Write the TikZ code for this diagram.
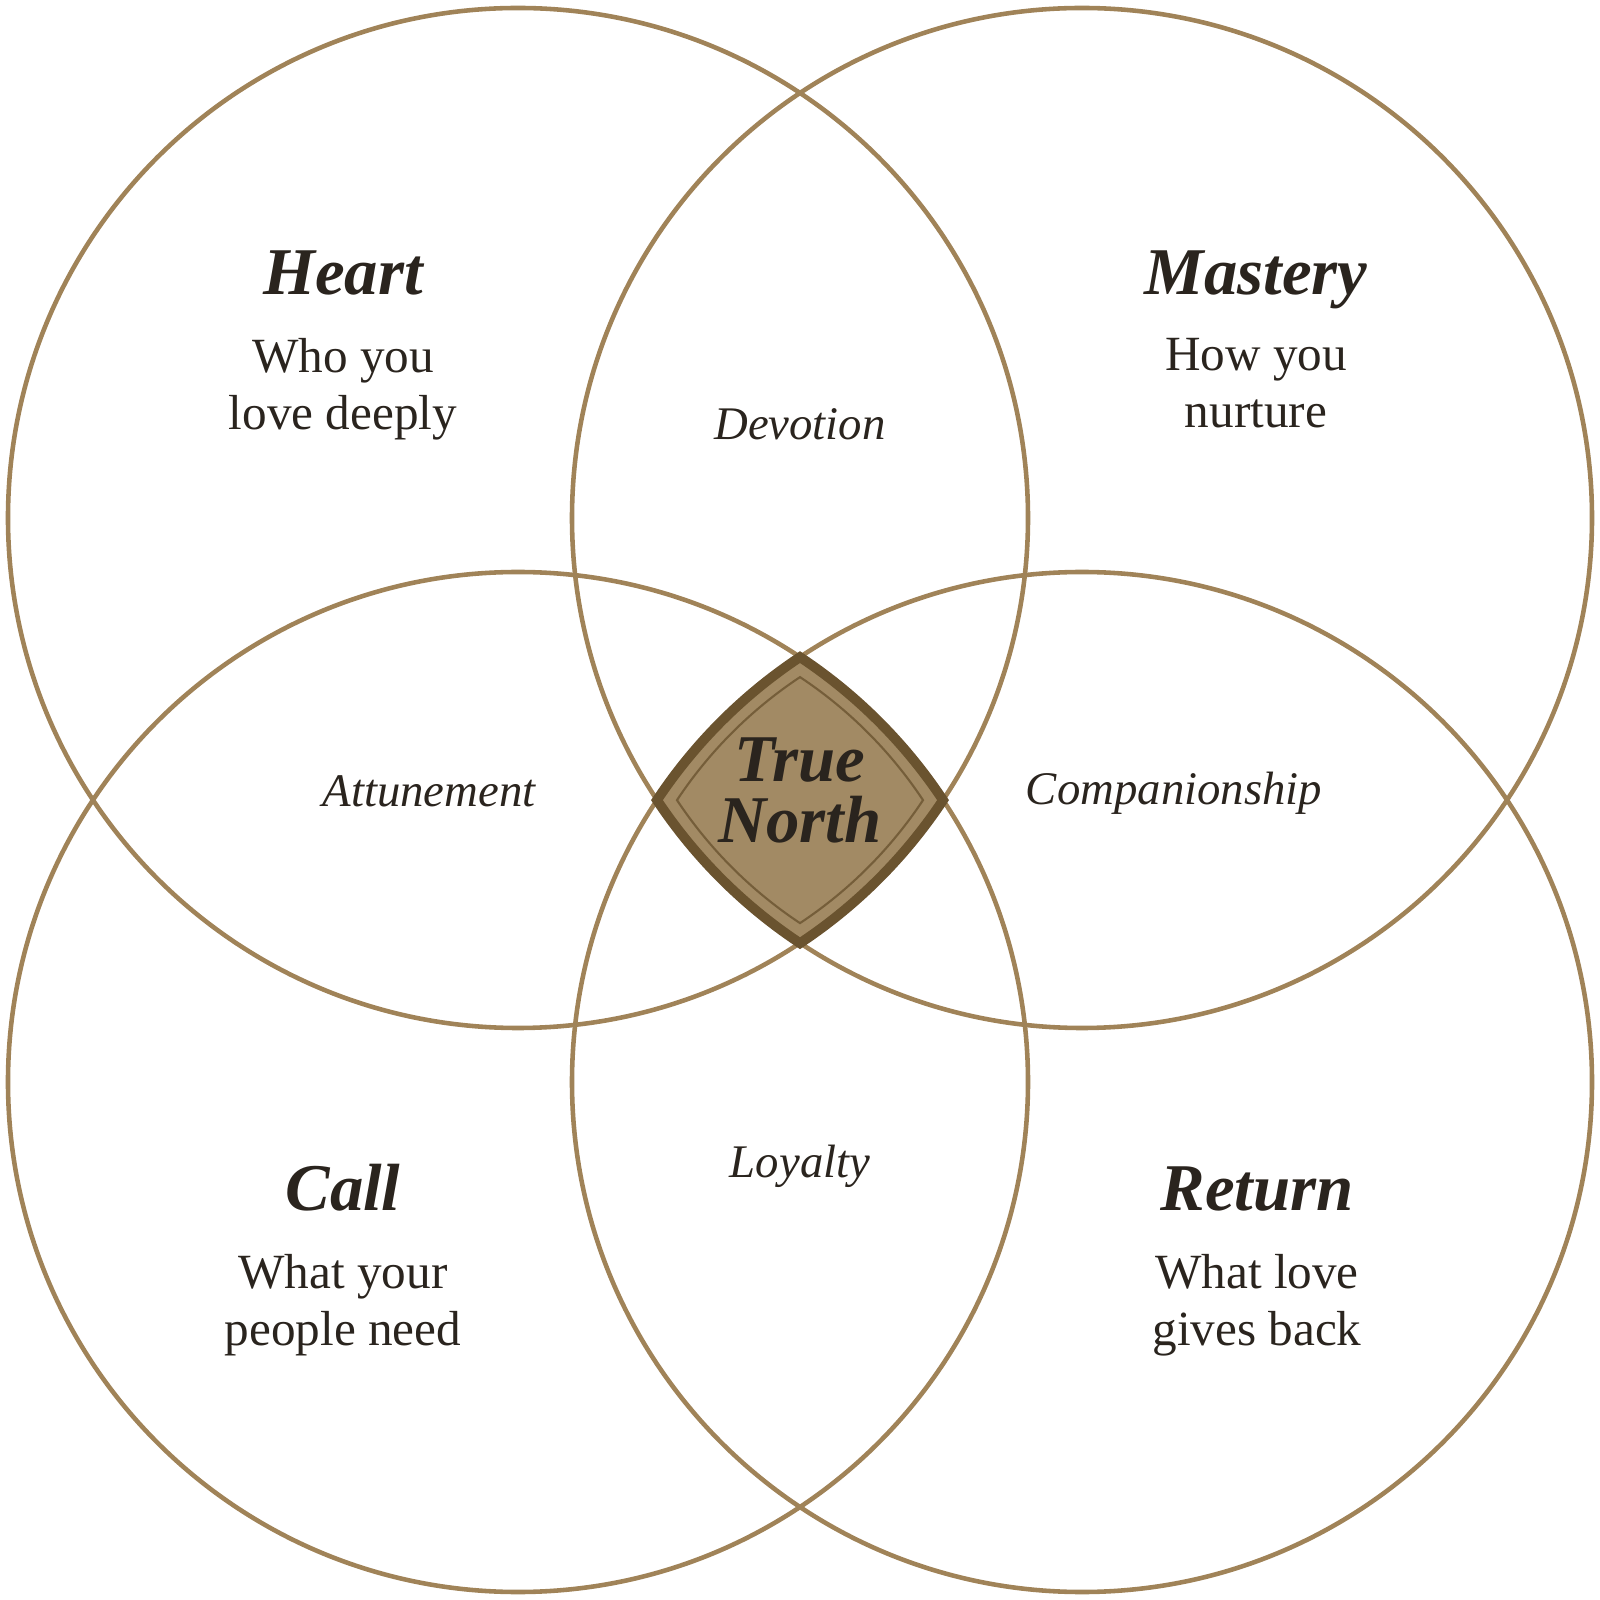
\documentclass[tikz,border=0pt]{standalone}
\usepackage{fontspec}
\setmainfont{Liberation Serif}
\usetikzlibrary{positioning}

\definecolor{ring}{HTML}{A08358}
\definecolor{kern}{HTML}{A28A64}
\definecolor{kernrand}{HTML}{6A532F}
\definecolor{schrift}{HTML}{2A241E}

% Rand der Schnittmenge aller vier Kreise
\newcommand{\kernpfad}{(0,1.429)
	arc[start angle=123.56, end angle=146.44, radius=5.1]
	arc[start angle=213.56, end angle=236.44, radius=5.1]
	arc[start angle=303.56, end angle=326.44, radius=5.1]
	arc[start angle=33.56, end angle=56.44, radius=5.1] -- cycle}

\begin{document}
\begin{tikzpicture}[
		text=schrift,
		kreis/.style={draw=ring, line width=1.3pt},
		titel/.style={font=\fontsize{19}{17}\selectfont\bfseries\itshape,
			anchor=base, inner sep=0pt},
		beschr/.style={font=\fontsize{14}{16}\selectfont, align=center,
			anchor=north, inner sep=0pt},
		schnitt/.style={font=\fontsize{13.3}{15}\selectfont\itshape,
			anchor=base, inner sep=0pt},
	]
		\useasboundingbox (-8,-8) rectangle (8,8);

		% Vier Kreise
		\draw[kreis] (-2.82,2.82) circle (5.1);
		\draw[kreis] (2.82,2.82) circle (5.1);
		\draw[kreis] (-2.82,-2.82) circle (5.1);
		\draw[kreis] (2.82,-2.82) circle (5.1);

		% Mitte
		\fill[kern] \kernpfad;
		\begin{scope}[scale=0.86]
			\draw[kernrand!80!kern, line width=0.6pt] \kernpfad;
		\end{scope}
		\draw[kernrand, line width=2.8pt] \kernpfad;
		\node[titel] (wahr) at (0,0.18) {True};
		\node[titel] (nord) at (0,-0.43) {North};

		% Kreise beschriften
		\node[titel] (herz) at (-4.57,5.05) {Heart};
		\node[beschr] (herzb) at ([yshift=-4.3mm]herz.base) {Who you\\love deeply};
		\node[titel] (meister) at (4.56,5.05) {Mastery};
		\node[beschr] (meisterb) at ([yshift=-4.3mm]meister.base) {How you\\nurture};
		\node[titel] (ruf) at (-4.57,-4.10) {Call};
		\node[beschr] (rufb) at ([yshift=-4.4mm]ruf.base) {What your\\people need};
		\node[titel] (rueck) at (4.57,-4.10) {Return};
		\node[beschr] (rueckb) at ([yshift=-4.4mm]rueck.base) {What love\\gives back};

		% Schnittflaechen
		\node[schnitt] (hingabe) at (0,3.60) {Devotion};
		\node[schnitt] (einklang) at (-3.71,-0.07) {Attunement};
		\node[schnitt] (begleit) at (3.74,-0.05) {Companionship};
		\node[schnitt] (treue) at (0,-3.77) {Loyalty};
	\end{tikzpicture}
\end{document}
